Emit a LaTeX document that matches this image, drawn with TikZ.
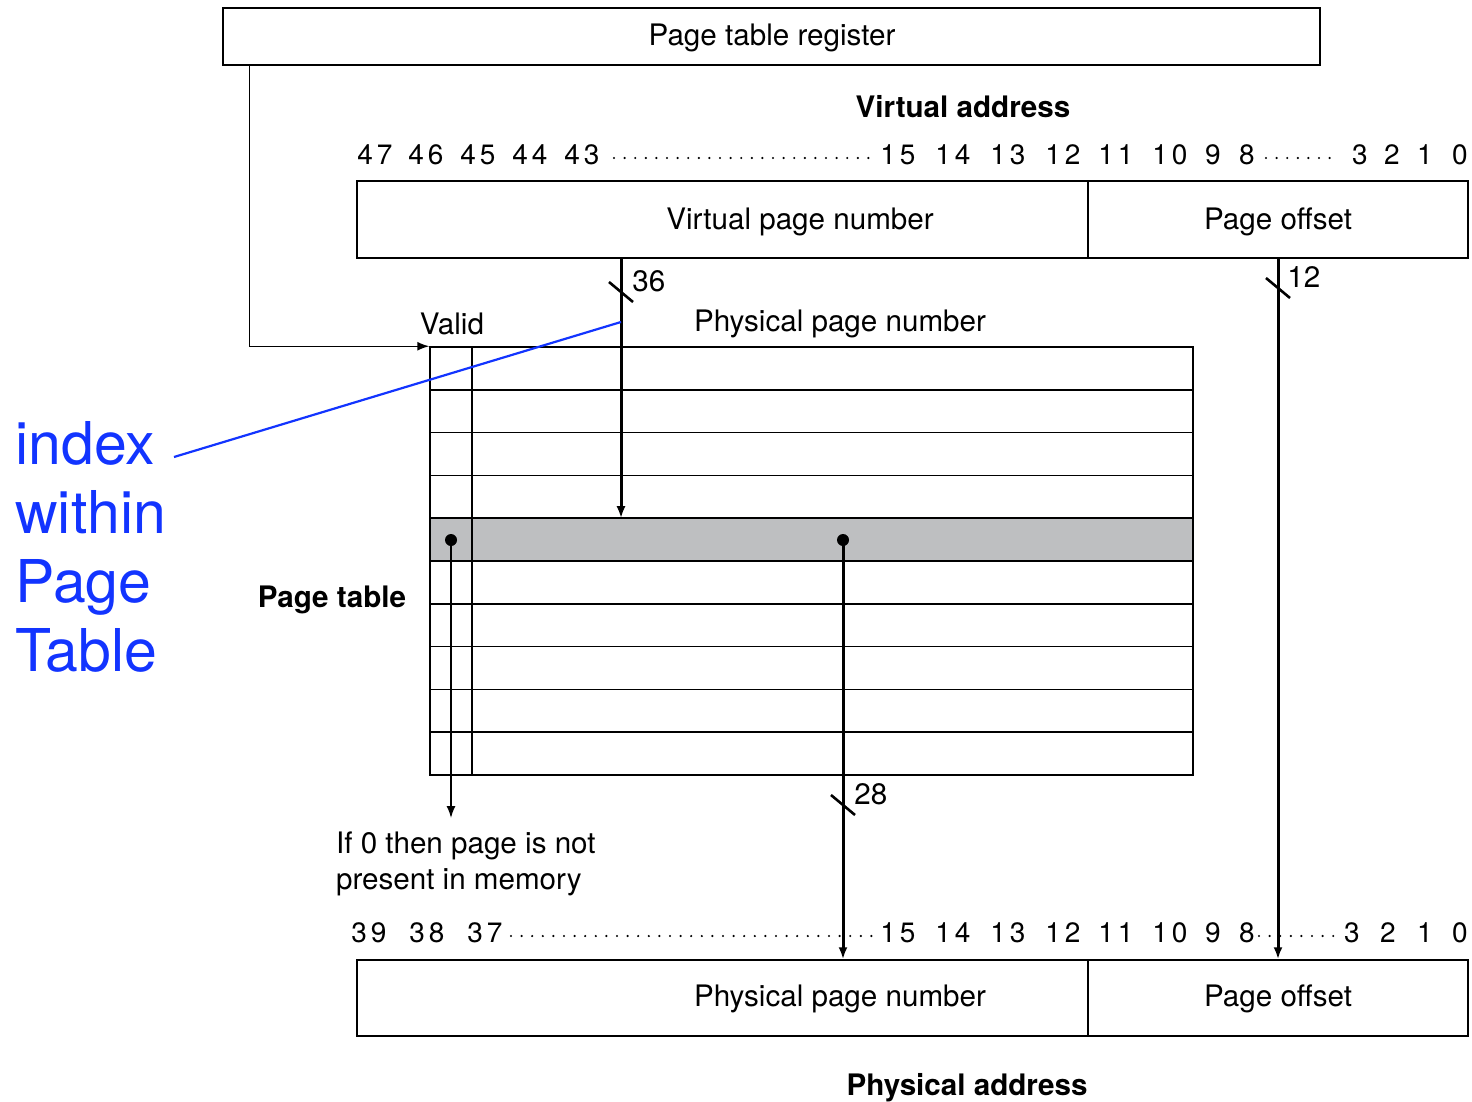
\documentclass[tikz,border=0pt]{standalone}
\usepackage{fontspec}
\setmainfont{TeX Gyre Heros}
\usetikzlibrary{arrows.meta}

\definecolor{rowgray}{RGB}{190,191,193}
\definecolor{idxblue}{RGB}{18,52,255}

\tikzset{
  lbl/.style={font=\fontsize{14.8}{18}\selectfont, yshift=-1.5pt},
  title/.style={font=\fontsize{14.8}{18}\selectfont\bfseries, yshift=-1.5pt},
  bitno/.style={font=\fontsize{14}{17}\selectfont\addfontfeature{LetterSpace=14}, inner sep=0pt},
  field/.style={draw, line width=0.75pt, inner sep=0pt},
  bus/.style={line width=1.5pt, -{Latex[length=6pt,width=4.5pt]}},
  wire/.style={line width=0.75pt, -{Latex[length=6pt,width=4.5pt]}},
  bitdots/.style={line width=1.2pt, line cap=round, dash pattern=on 0pt off 5.3pt},
  busmark/.pic={\draw[line width=1.3pt] (-12,-10) -- (12,10);},
}

\begin{document}
\begin{tikzpicture}[x=0.5pt, y=-0.5pt]
\useasboundingbox (0,0) rectangle (1472,1102);

% register
\node[field, minimum width=548.5pt, minimum height=28.5pt] (reg) at (771.5,36.5) {};
\node[lbl] (regtxt) at (772,35) {Page table register};

% virtual address
\node[title] (vatitle) at (963,104) {Virtual address};
\foreach \n/\x in {47/375, 46/426, 45/478, 44/530, 43/582, 15/898, 14/953, 13/1008,
                   12/1063, 11/1116, 10/1170, 9/1213, 8/1247, 3/1360, 2/1392, 1/1425, 0/1460}
  \node[bitno] (t\n) at (\x,155) {\n};
\draw[bitdots] (614,158) -- (872,158);
\draw[bitdots] (1266,158) -- (1335,158);

\node[field, minimum width=365.5pt, minimum height=38.5pt] (vpn) at (722.5,219.5) {};
\node[lbl] (vpntxt) at (800,219) {Virtual page number};
\node[field, minimum width=190pt, minimum height=38.5pt] (voff) at (1278,219.5) {};
\node[lbl] (vofftxt) at (1278,219) {Page offset};

% page table
\fill[rowgray] (430,518.2) rectangle (1193,561);
\node[field, minimum width=381.5pt, minimum height=214pt] (ptab) at (811.5,561) {};
\foreach \k in {1,...,9}
  \draw[line width=0.75pt] (430,347+42.8*\k) -- (1193,347+42.8*\k);
\draw[line width=0.75pt] (472,347) -- (472,775);

\node[lbl] (valid) at (452,321) {Valid};
\node[lbl] (ppnhead) at (840,321) {Physical page number};
\node[title] (pttitle) at (332,597) {Page table};

\coordinate (vdot) at (451,540);
\coordinate (pdot) at (843,540);
\fill (vdot) circle (3pt);
\fill (pdot) circle (3pt);

% physical address
\node[lbl, align=left, anchor=west] (note) at (329,861) {If 0 then page is not\\present in memory};

\foreach \n/\x in {39/369, 38/427, 37/485, 15/898, 14/953, 13/1008,
                   12/1063, 11/1116, 10/1170, 9/1213, 8/1247, 3/1352, 2/1388, 1/1425, 0/1460}
  \node[bitno] (b\n) at (\x,933) {\n};
\draw[bitdots] (511,936) -- (875,936);
\draw[bitdots] (1259,936) -- (1340,936);

\node[field, minimum width=365.5pt, minimum height=38pt] (ppn) at (722.5,998) {};
\node[lbl] (ppntxt) at (840,996) {Physical page number};
\node[field, minimum width=190pt, minimum height=38pt] (poff) at (1278,998) {};
\node[lbl] (pofftxt) at (1278,996) {Page offset};
\node[title] (patitle) at (967,1085) {Physical address};

% connectors
\draw[wire] ([xshift=13.5pt]reg.south west) |- (ptab.north west);

\coordinate (hit) at (621,518.2);
\draw[bus] (vpn.south -| hit) -- (hit);
\pic at (621,292) {busmark};
\node[lbl, anchor=west, inner sep=1pt] (w36) at (630,278) {36};

\draw[bus] (voff.south) -- (poff.north);
\pic at (1278,288) {busmark};
\node[lbl, anchor=west, inner sep=1pt] (w12) at (1285,274) {12};

\coordinate (vend) at (451,818);
\draw[wire] (vdot) -- (vend);

\draw[bus] (pdot) -- (pdot |- ppn.north);
\pic at (843,805) {busmark};
\node[lbl, anchor=west, inner sep=1pt] (w28) at (852,791) {28};

% annotation
\node[font=\fontsize{29.5}{34.5}\selectfont, text=idxblue, align=left, anchor=west, inner sep=0pt]
  (idx) at (15,547) {index\\within\\Page\\Table};
\coordinate (idxend) at (174,457);
\coordinate (vpnidx) at (621,322);
\draw[idxblue, line width=1.1pt] (idxend) -- (vpnidx);

\end{tikzpicture}
\end{document}
